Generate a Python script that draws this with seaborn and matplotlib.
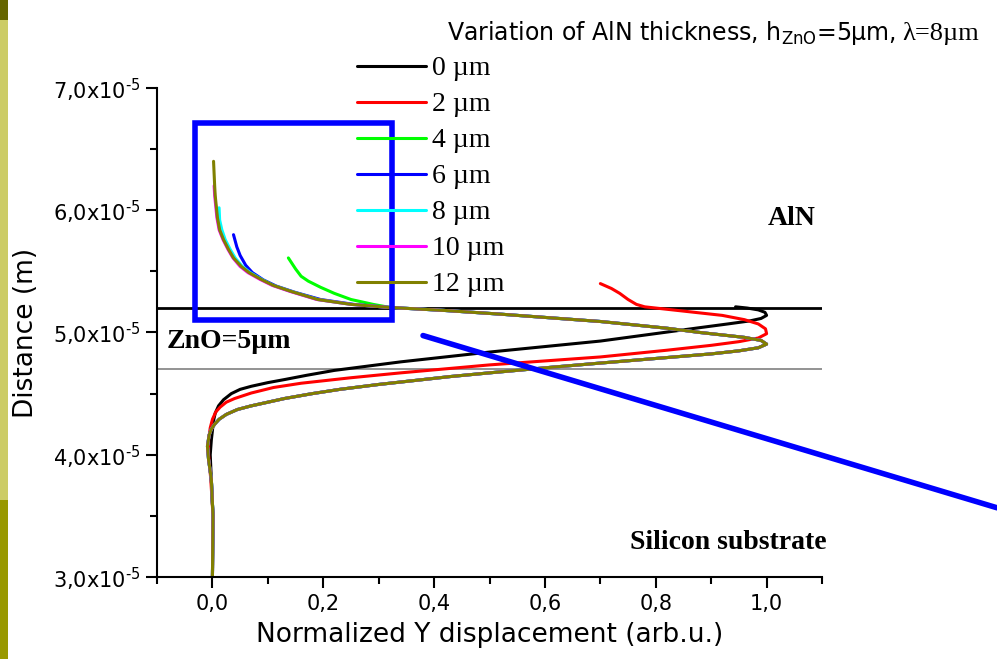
import numpy as np
import pandas as pd
import matplotlib
matplotlib.use("Agg")
import matplotlib.pyplot as plt
import seaborn as sns
from matplotlib.patches import Rectangle
from matplotlib.ticker import MultipleLocator

# AlN thickness series
thick_labels = ["0 µm", "2 µm", "4 µm", "6 µm", "8 µm", "10 µm", "12 µm"]
line_colors = ["#000000", "#ff0000", "#00ff00", "#0000ff", "#00ffff", "#ff00ff", "#808000"]

# depths are in units of 1e-5 m
black_x = [0.0, 0.001, -0.002, -0.004, -0.002, 0.0, 0.002, 0.005, 0.011, 0.02, 0.034, 0.05, 0.07,
           0.10, 0.13, 0.17, 0.22, 0.34, 0.50, 0.70, 0.88, 0.93, 0.97, 0.99, 1.0, 0.997, 0.985,
           0.965, 0.944]
black_y = [3.0, 3.5, 3.8, 4.0, 4.12, 4.2, 4.28, 4.34, 4.40, 4.45, 4.50, 4.535, 4.56,
           4.59, 4.615, 4.65, 4.69, 4.76, 4.84, 4.93, 5.04, 5.07, 5.095, 5.115, 5.14, 5.165, 5.185,
           5.20, 5.21]

red_x = [0.0, 0.001, -0.003, -0.007, -0.007, -0.004, 0.0, 0.006, 0.014, 0.025, 0.04, 0.07, 0.11,
         0.16, 0.25, 0.34, 0.50, 0.70, 0.82, 0.90, 0.95, 0.985, 1.0, 0.998, 0.985, 0.96, 0.92,
         0.88, 0.83, 0.80, 0.78, 0.765, 0.75, 0.735, 0.72, 0.70]
red_y = [3.0, 3.5, 3.8, 4.0, 4.12, 4.22, 4.29, 4.35, 4.39, 4.43, 4.46, 4.505, 4.55,
         4.585, 4.63, 4.67, 4.735, 4.80, 4.855, 4.895, 4.925, 4.955, 4.99, 5.03, 5.07, 5.105, 5.14,
         5.16, 5.185, 5.20, 5.21, 5.23, 5.27, 5.32, 5.36, 5.40]

# common path of the 4-12 µm curves (substrate + ZnO)
shared_x = [0.0, 0.001, -0.002, -0.007, -0.009, -0.006, -0.002, 0.004, 0.012, 0.025, 0.045, 0.07,
            0.10, 0.13, 0.18, 0.23, 0.30, 0.36, 0.43, 0.50, 0.61, 0.70, 0.82, 0.90, 0.95, 0.985,
            1.0, 0.99, 0.96, 0.92, 0.88, 0.82, 0.755, 0.70, 0.61, 0.52, 0.42, 0.32]
shared_y = [3.0, 3.5, 3.8, 3.96, 4.07, 4.16, 4.21, 4.25, 4.29, 4.33, 4.37, 4.40,
            4.43, 4.46, 4.50, 4.535, 4.575, 4.605, 4.64, 4.67, 4.715, 4.75, 4.795, 4.825, 4.85, 4.875,
            4.905, 4.935, 4.96, 4.98, 5.0, 5.035, 5.065, 5.09, 5.12, 5.15, 5.18, 5.205]

# AlN part of each curve
green_x = [0.29, 0.25, 0.22, 0.195, 0.173, 0.16, 0.15, 0.137]
green_y = [5.23, 5.27, 5.32, 5.37, 5.42, 5.46, 5.52, 5.61]
blue_x = [0.255, 0.195, 0.148, 0.115, 0.092, 0.072, 0.06, 0.05, 0.044, 0.038]
blue_y = [5.23, 5.27, 5.33, 5.38, 5.43, 5.49, 5.55, 5.63, 5.70, 5.80]
cyan_x = [0.25, 0.19, 0.142, 0.11, 0.089, 0.068, 0.054, 0.041, 0.032, 0.023, 0.017, 0.013, 0.012]
cyan_y = [5.23, 5.27, 5.336, 5.385, 5.434, 5.49, 5.54, 5.61, 5.68, 5.76, 5.84, 5.92, 6.02]
magenta_x = [0.25, 0.188, 0.14, 0.108, 0.086, 0.064, 0.05, 0.037, 0.028, 0.019, 0.012, 0.008, 0.006,
             0.004, 0.003]
magenta_y = [5.23, 5.27, 5.336, 5.385, 5.434, 5.49, 5.54, 5.61, 5.68, 5.76, 5.84, 5.94, 6.03,
             6.12, 6.20]
olive_x = [0.25, 0.19, 0.142, 0.11, 0.088, 0.066, 0.052, 0.038, 0.029, 0.02, 0.013, 0.009, 0.007,
           0.005, 0.004, 0.003, 0.002]
olive_y = [5.23, 5.27, 5.336, 5.385, 5.434, 5.49, 5.54, 5.61, 5.68, 5.76, 5.84, 5.94, 6.03,
           6.12, 6.20, 6.30, 6.40]

# layer interfaces, highlight box and pointer line
zno_top = 5.2e-5
zno_bottom = 4.7e-5
box_x = [-0.032, 0.324]
box_y = [5.10e-5, 6.71e-5]
pointer_x = [0.38, 1.416]
pointer_y = [4.975e-5, 3.566e-5]

ytick_vals = [3.0e-5, 4.0e-5, 5.0e-5, 6.0e-5, 7.0e-5]
ytick_labels = ["3,0x10$^{\u2011\\mathregular{5}}$", "4,0x10$^{\u2011\\mathregular{5}}$",
                "5,0x10$^{\u2011\\mathregular{5}}$", "6,0x10$^{\u2011\\mathregular{5}}$",
                "7,0x10$^{\u2011\\mathregular{5}}$"]
xtick_vals = [0.0, 0.2, 0.4, 0.6, 0.8, 1.0]
xtick_labels = ["0,0", "0,2", "0,4", "0,6", "0,8", "1,0"]

curves = [
    (black_x, black_y),
    (red_x, red_y),
    (shared_x + green_x, shared_y + green_y),
    (shared_x + blue_x, shared_y + blue_y),
    (shared_x + cyan_x, shared_y + cyan_y),
    (shared_x + magenta_x, shared_y + magenta_y),
    (shared_x + olive_x, shared_y + olive_y),
]
frames = []
for lab, (cx, cy) in zip(thick_labels, curves):
    frames.append(pd.DataFrame({"disp": cx, "depth": np.array(cy) * 1e-5, "thickness": lab}))
df = pd.concat(frames, ignore_index=True)

sns.set_theme(style="ticks")
plt.rcParams["font.family"] = ["DejaVu Sans"]
plt.rcParams["mathtext.fontset"] = "dejavusans"
plt.rcParams["text.color"] = "black"
plt.rcParams["axes.labelcolor"] = "black"

fig = plt.figure(figsize=(9.97, 6.59), dpi=100)
ax = fig.add_axes([0.1575, 0.1244, 0.667, 0.7421])

sns.lineplot(data=df, x="disp", y="depth", hue="thickness", hue_order=thick_labels,
             palette=line_colors, sort=False, estimator=None, linewidth=2.2, ax=ax)

ax.axhline(zno_top, color="black", lw=2, zorder=1)
ax.axhline(zno_bottom, color="#808080", lw=1.2, zorder=1)

ax.add_patch(Rectangle((box_x[0], box_y[0]), box_x[1] - box_x[0], box_y[1] - box_y[0],
                       fill=False, edgecolor="#0000ff", lw=4, zorder=5))
ax.plot(pointer_x, pointer_y, color="#0000ff", lw=4, clip_on=False, zorder=5)

ax.set_xlim(-0.1, 1.1)
ax.set_ylim(3.0e-5, 7.0e-5)
ax.set_xticks(xtick_vals, xtick_labels)
ax.set_yticks(ytick_vals, ytick_labels)
ax.xaxis.set_minor_locator(MultipleLocator(0.1))
ax.yaxis.set_minor_locator(MultipleLocator(0.5e-5))
ax.tick_params(which="major", direction="out", length=8, width=1.5, labelsize=15,
               colors="black", pad=4)
ax.tick_params(which="minor", direction="out", length=5, width=1.5, colors="black")
for s in ["top", "right"]:
    ax.spines[s].set_visible(False)
for s in ["left", "bottom"]:
    ax.spines[s].set_linewidth(1.5)
    ax.spines[s].set_color("black")

ax.set_xlabel("Normalized Y displacement (arb.u.)", fontsize=19, labelpad=6)
ax.set_ylabel("Distance (m)", fontsize=19, labelpad=10)

handles, labels = ax.get_legend_handles_labels()
ax.legend(handles, labels, loc="upper left", bbox_to_anchor=(357 / 997, 1 - 56 / 659),
          bbox_transform=fig.transFigure, frameon=False, borderpad=0, borderaxespad=0,
          handlelength=2.5, handletextpad=0.2, labelspacing=0.38,
          prop={"family": "Liberation Serif", "size": 20})

serif_bold = {"family": "Liberation Serif", "weight": "bold", "size": 20}
ax.text(1.088, 5.93e-5, "AlN", ha="right", va="center", fontdict=serif_bold)
ax.text(-0.083, 4.93e-5, "ZnO=5µm", ha="left", va="center", fontdict=serif_bold)
ax.text(1.108, 3.28e-5, "Silicon substrate", ha="right", va="center", fontdict=serif_bold)

# title line above the legend
t1 = fig.text(447 / 997, 1 - 40 / 659, "Variation of AlN thickness, h$_{\\mathregular{ZnO}}$=5µm,",
              fontsize=17, ha="left", va="baseline")
renderer = fig.canvas.get_renderer()
bb = t1.get_window_extent(renderer=renderer)
fig.text((bb.x1 + 7) / fig.bbox.width, 1 - 40 / 659, "λ=8µm", fontsize=19, ha="left",
         va="baseline", family="Liberation Serif")

# decorative stripe at the left edge
stripe_tops = [659, 639, 159]
stripe_heights = [20, 480, 159]
stripe_colors = ["#666600", "#cccc66", "#999900"]
for top, h, c in zip(stripe_tops, stripe_heights, stripe_colors):
    fig.add_artist(Rectangle((0, (top - h) / 659), 8 / 997, h / 659, transform=fig.transFigure,
                             facecolor=c, edgecolor="none"))

fig.savefig("out.png", dpi=100)
